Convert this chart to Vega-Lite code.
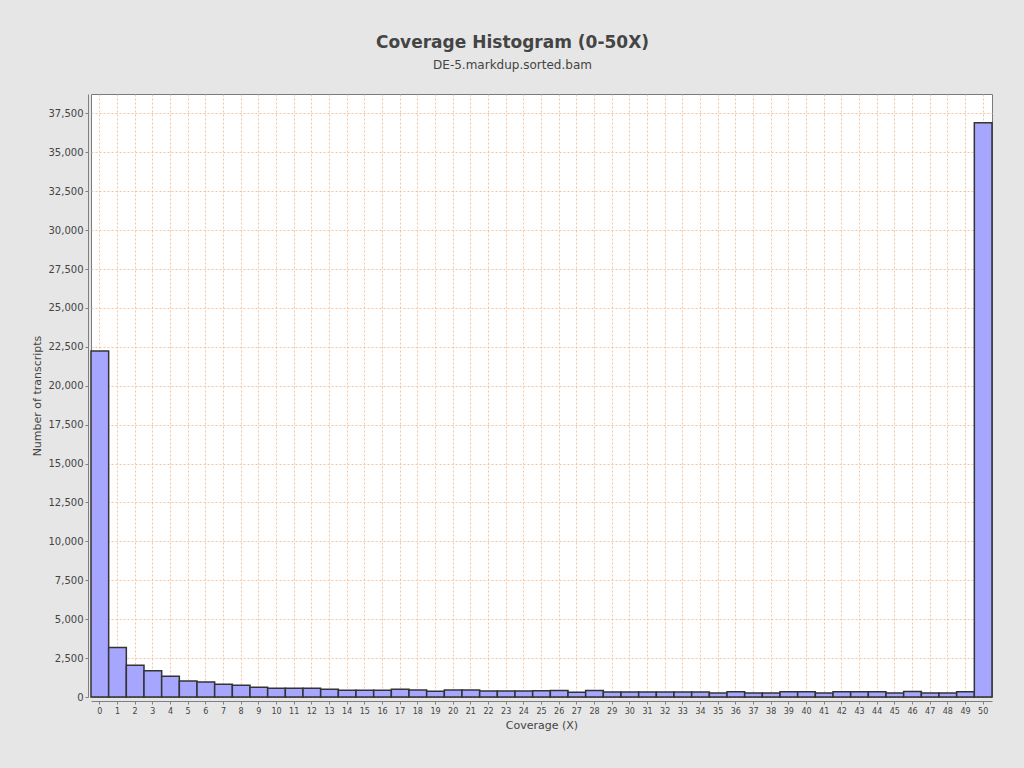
{
  "$schema": "https://vega.github.io/schema/vega-lite/v6.json",
  "autosize": "none",
  "width": 901,
  "height": 603,
  "padding": {"left": 91, "top": 94, "right": 32, "bottom": 71},
  "background": "#e6e6e6",
  "title": {
    "text": "Coverage Histogram (0-50X)",
    "subtitle": "DE-5.markdup.sorted.bam",
    "anchor": "middle",
    "dx": -29,
    "offset": 22,
    "font": "DejaVu Sans",
    "fontSize": 17,
    "fontWeight": "bold",
    "color": "#444444",
    "subtitleFont": "DejaVu Sans",
    "subtitleFontSize": 12,
    "subtitleColor": "#444444",
    "subtitlePadding": 8
  },
  "config": {
    "view": {"fill": "#ffffff", "stroke": "#7a7a7a", "strokeWidth": 1},
    "axis": {
      "labelFont": "DejaVu Sans",
      "titleFont": "DejaVu Sans",
      "labelColor": "#444444",
      "titleColor": "#444444",
      "titleFontWeight": "normal",
      "domainColor": "#808080",
      "tickColor": "#808080",
      "gridColor": "#f0b888",
      "gridDash": [2, 2],
      "gridOpacity": 0.8,
      "gridWidth": 1
    }
  },
  "data": {
    "values": [
      {"coverage": 0, "count": 22230},
      {"coverage": 1, "count": 3180},
      {"coverage": 2, "count": 2040},
      {"coverage": 3, "count": 1680},
      {"coverage": 4, "count": 1330},
      {"coverage": 5, "count": 1030},
      {"coverage": 6, "count": 970},
      {"coverage": 7, "count": 820},
      {"coverage": 8, "count": 760},
      {"coverage": 9, "count": 630},
      {"coverage": 10, "count": 560},
      {"coverage": 11, "count": 560},
      {"coverage": 12, "count": 560},
      {"coverage": 13, "count": 500},
      {"coverage": 14, "count": 440},
      {"coverage": 15, "count": 440},
      {"coverage": 16, "count": 440},
      {"coverage": 17, "count": 500},
      {"coverage": 18, "count": 450},
      {"coverage": 19, "count": 370},
      {"coverage": 20, "count": 450},
      {"coverage": 21, "count": 450},
      {"coverage": 22, "count": 390},
      {"coverage": 23, "count": 390},
      {"coverage": 24, "count": 390},
      {"coverage": 25, "count": 400},
      {"coverage": 26, "count": 410},
      {"coverage": 27, "count": 300},
      {"coverage": 28, "count": 420},
      {"coverage": 29, "count": 320},
      {"coverage": 30, "count": 320},
      {"coverage": 31, "count": 320},
      {"coverage": 32, "count": 320},
      {"coverage": 33, "count": 320},
      {"coverage": 34, "count": 320},
      {"coverage": 35, "count": 250},
      {"coverage": 36, "count": 340},
      {"coverage": 37, "count": 260},
      {"coverage": 38, "count": 260},
      {"coverage": 39, "count": 340},
      {"coverage": 40, "count": 340},
      {"coverage": 41, "count": 260},
      {"coverage": 42, "count": 340},
      {"coverage": 43, "count": 340},
      {"coverage": 44, "count": 340},
      {"coverage": 45, "count": 260},
      {"coverage": 46, "count": 360},
      {"coverage": 47, "count": 260},
      {"coverage": 48, "count": 260},
      {"coverage": 49, "count": 340},
      {"coverage": 50, "count": 36910}
    ]
  },
  "mark": {"type": "bar", "fill": "#a6a6ff", "stroke": "#333333", "strokeWidth": 1.5},
  "encoding": {
    "x": {
      "field": "coverage",
      "type": "ordinal",
      "scale": {"paddingInner": 0, "paddingOuter": 0},
      "axis": {
        "title": "Coverage (X)",
        "titleFontSize": 11,
        "titlePadding": 4,
        "labelAngle": 0,
        "labelFontSize": 8,
        "labelPadding": 3,
        "tickSize": 3,
        "offset": 4,
        "grid": true
      }
    },
    "y": {
      "field": "count",
      "type": "quantitative",
      "scale": {"domain": [0, 38750], "nice": false},
      "axis": {
        "title": "Number of transcripts",
        "titleFontSize": 11,
        "titlePadding": 6,
        "labelFontSize": 10,
        "labelPadding": 2,
        "tickSize": 3,
        "offset": 3,
        "format": ",d",
        "values": [0, 2500, 5000, 7500, 10000, 12500, 15000, 17500, 20000, 22500, 25000, 27500, 30000, 32500, 35000, 37500],
        "grid": true
      }
    }
  }
}
